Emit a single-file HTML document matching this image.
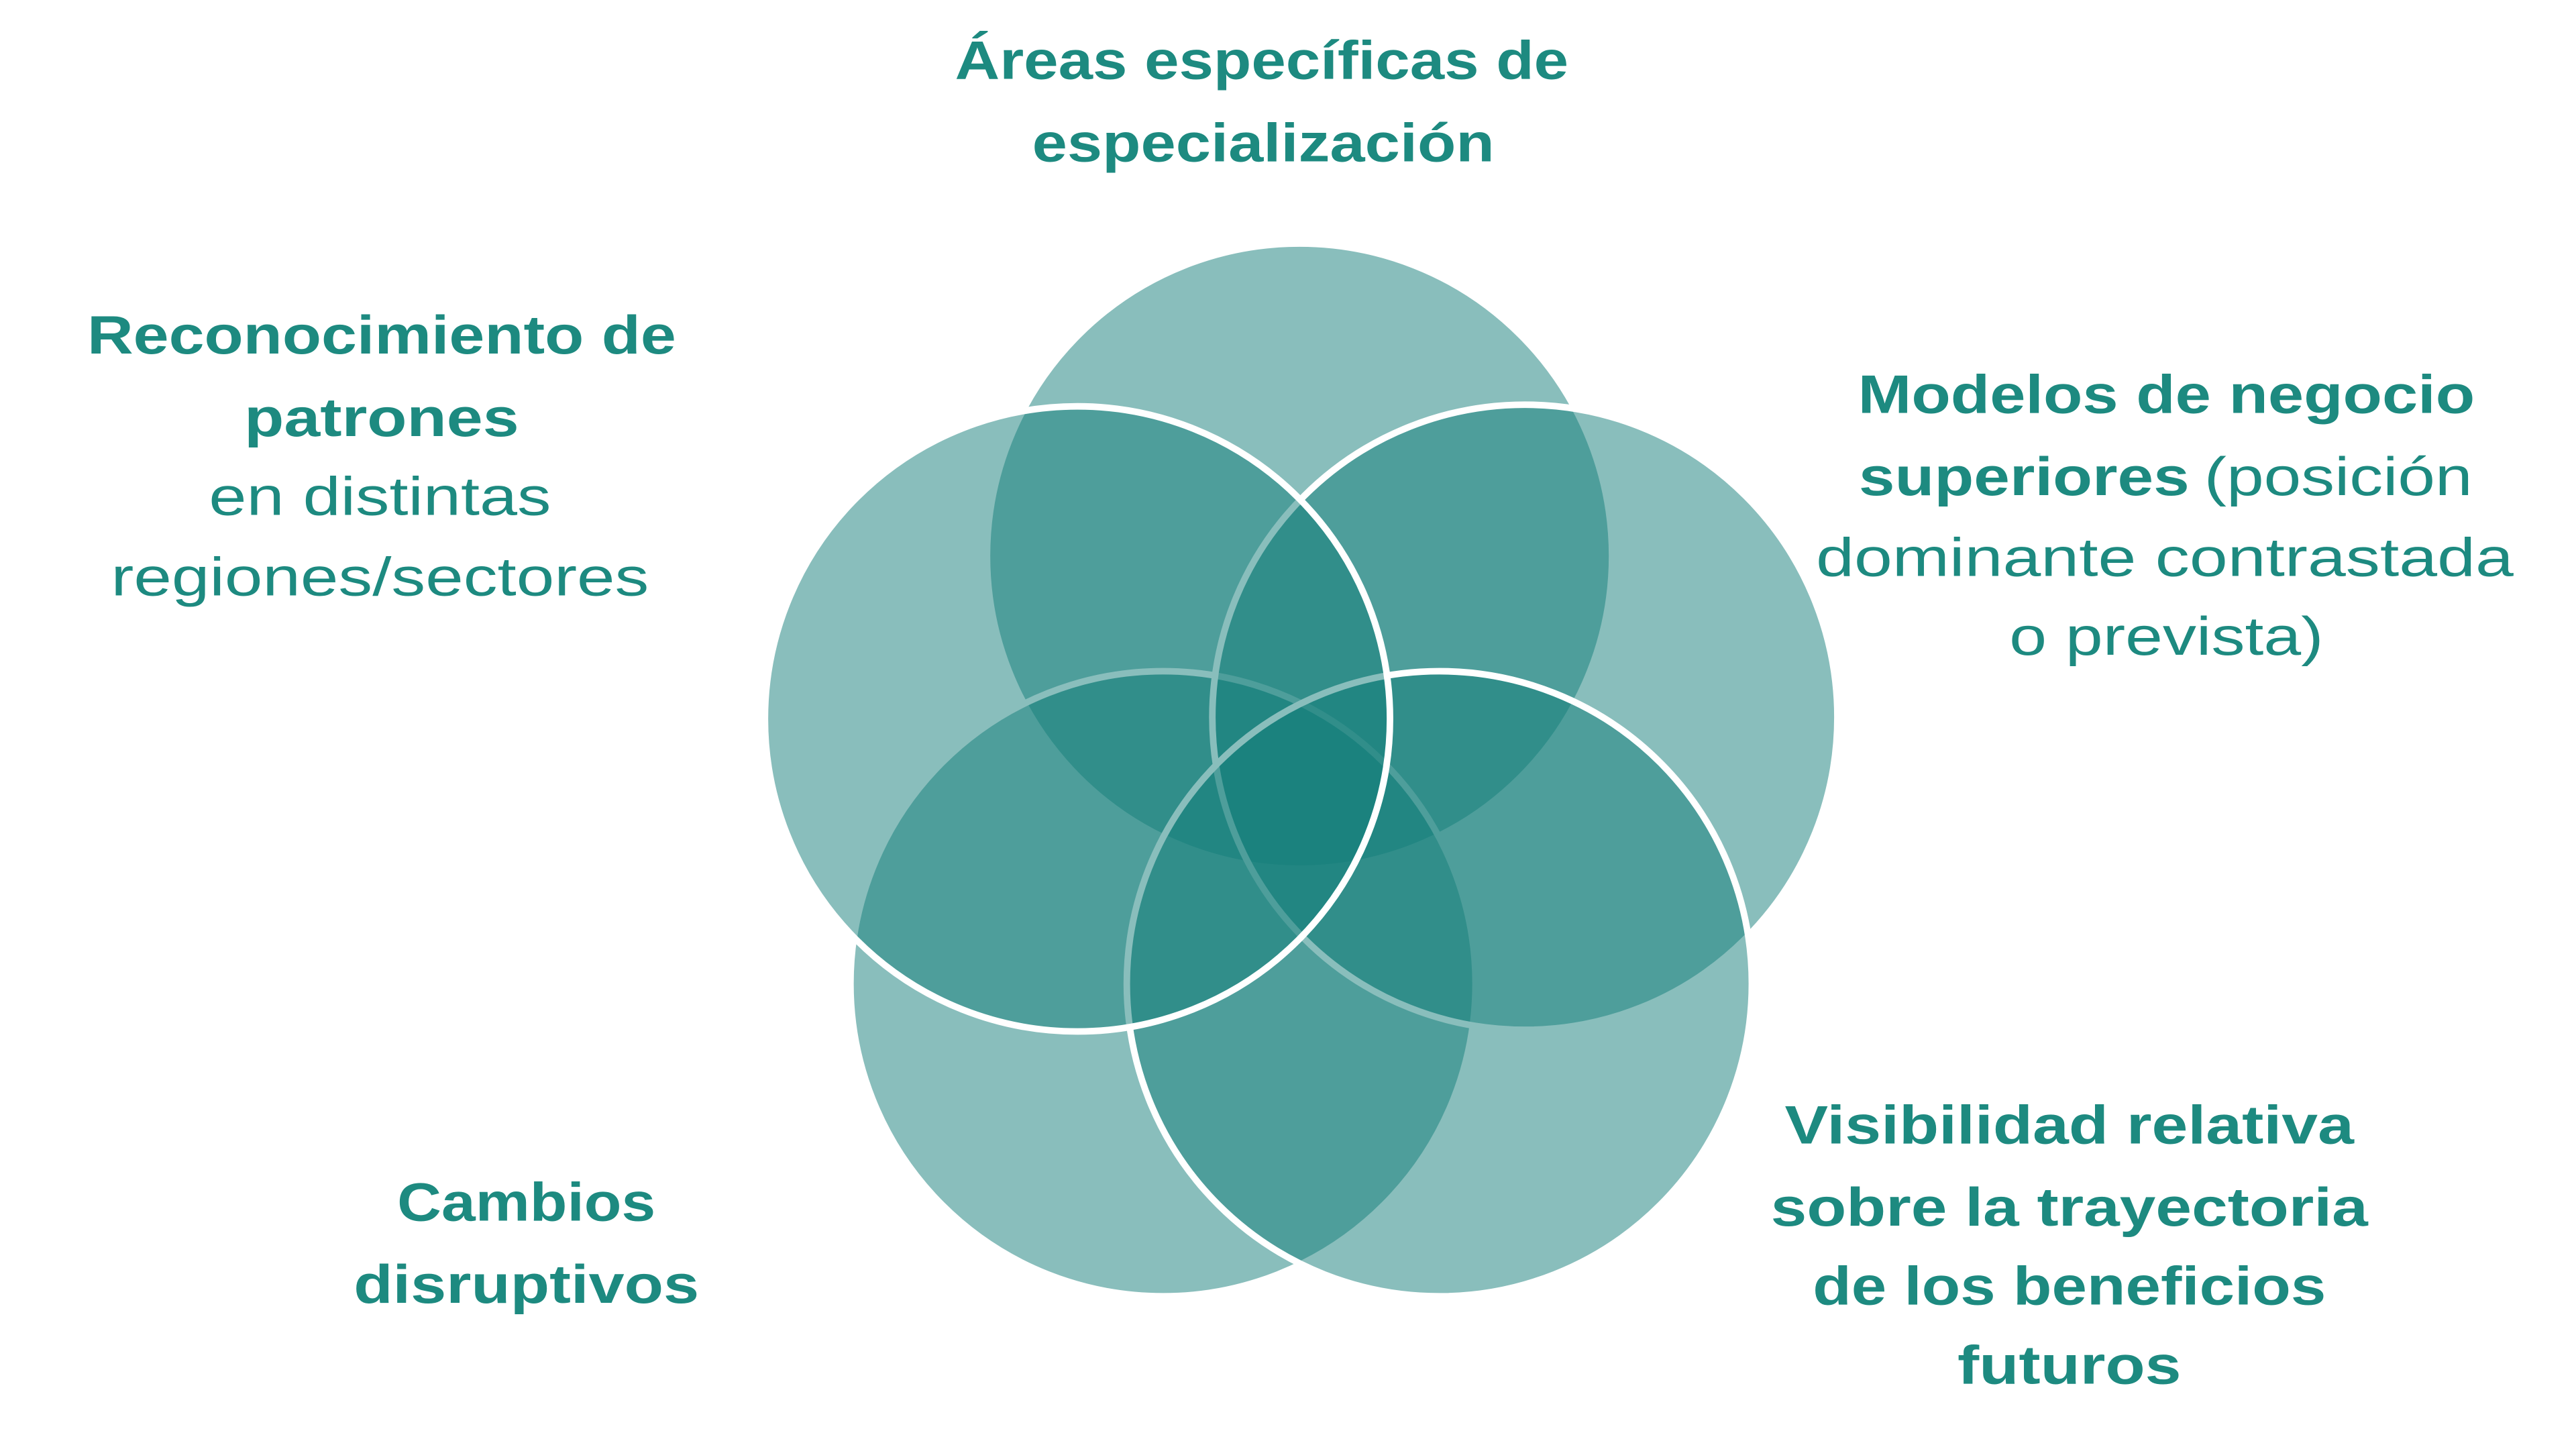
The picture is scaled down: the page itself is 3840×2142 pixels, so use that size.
<!DOCTYPE html>
<html><head><meta charset="utf-8"><style>
html,body{margin:0;padding:0;background:#fff;}
svg{display:block;}
text{font-family:"Liberation Sans",sans-serif;fill:#1D8A80;font-size:33px;}
.b{font-weight:bold;}
</style></head><body>
<svg width="3840" height="2142" viewBox="0 0 1566 873.5" preserveAspectRatio="none" xmlns="http://www.w3.org/2000/svg">
<rect width="1566" height="874" fill="#fff"/>
<g fill="rgb(19,126,122)" fill-opacity="0.5" stroke="#fff" stroke-width="4">
<circle cx="790" cy="338" r="190"/>
<circle cx="707" cy="598" r="190"/>
<circle cx="927" cy="436" r="190"/>
<circle cx="875" cy="598" r="190"/>
<circle cx="655" cy="437" r="190"/>
</g>
<g text-anchor="middle">
<text class="b" x="767" y="48" textLength="373" lengthAdjust="spacingAndGlyphs">Áreas específicas de</text>
<text class="b" x="768" y="98" textLength="281" lengthAdjust="spacingAndGlyphs">especialización</text>

<text class="b" x="232" y="215" textLength="358" lengthAdjust="spacingAndGlyphs">Reconocimiento de</text>
<text class="b" x="232" y="265" textLength="167" lengthAdjust="spacingAndGlyphs">patrones</text>
<text x="231" y="313" textLength="208" lengthAdjust="spacingAndGlyphs">en distintas</text>
<text x="231" y="362" textLength="327" lengthAdjust="spacingAndGlyphs">regiones/sectores</text>

<text class="b" x="1317" y="251" textLength="375" lengthAdjust="spacingAndGlyphs">Modelos de negocio</text>
<text x="1316" y="350" textLength="424" lengthAdjust="spacingAndGlyphs">dominante contrastada</text>
<text x="1317" y="398" textLength="191" lengthAdjust="spacingAndGlyphs">o prevista)</text>

<text class="b" x="320" y="742" textLength="157" lengthAdjust="spacingAndGlyphs">Cambios</text>
<text class="b" x="320" y="792" textLength="210" lengthAdjust="spacingAndGlyphs">disruptivos</text>

<text class="b" x="1258" y="695" textLength="346" lengthAdjust="spacingAndGlyphs">Visibilidad relativa</text>
<text class="b" x="1258" y="745" textLength="363" lengthAdjust="spacingAndGlyphs">sobre la trayectoria</text>
<text class="b" x="1258" y="793" textLength="312" lengthAdjust="spacingAndGlyphs">de los beneficios</text>
<text class="b" x="1258" y="841" textLength="136" lengthAdjust="spacingAndGlyphs">futuros</text>
</g>
<text class="b" x="1130" y="301" textLength="201" lengthAdjust="spacingAndGlyphs">superiores</text>
<text x="1340" y="301" textLength="163" lengthAdjust="spacingAndGlyphs">(posición</text>
</svg>
</body></html>
